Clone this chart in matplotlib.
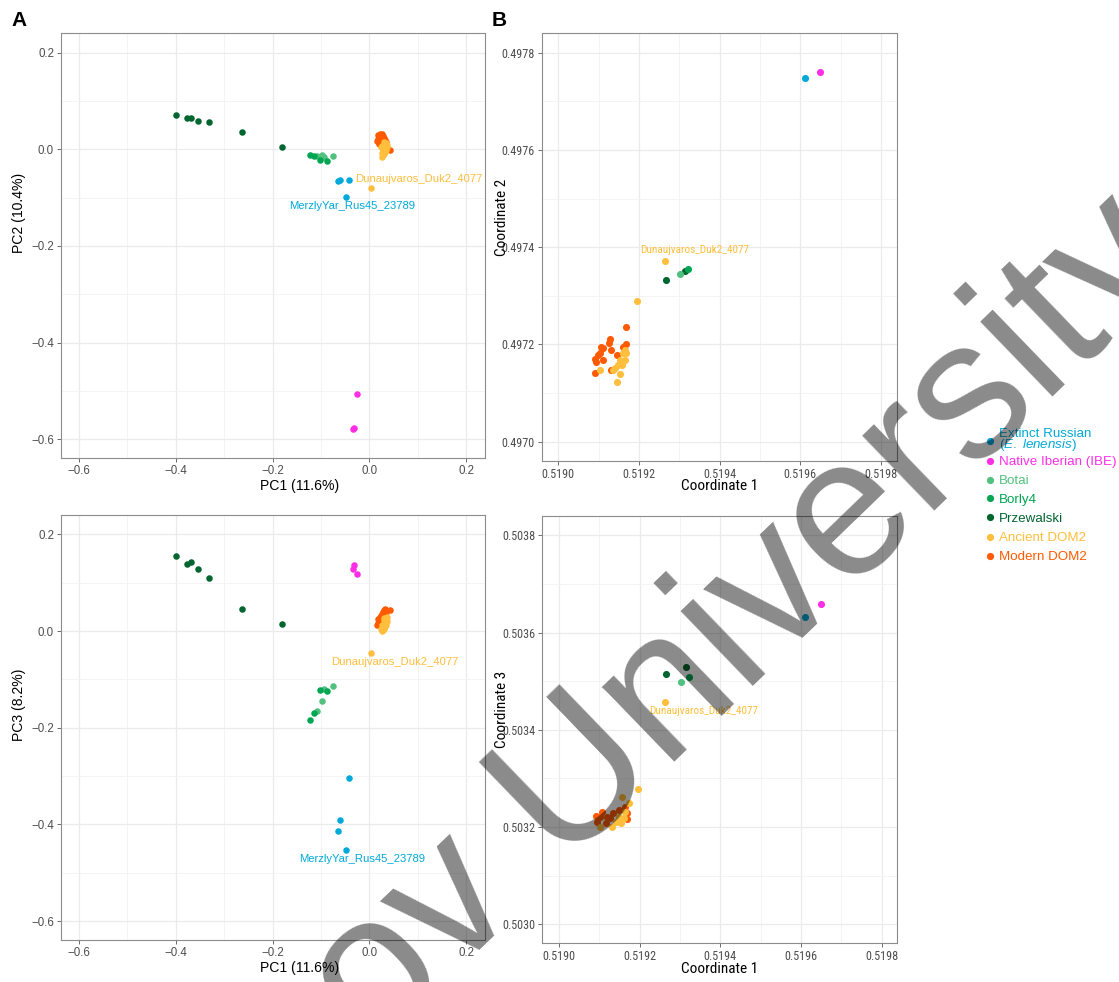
import matplotlib
matplotlib.use("Agg")
import matplotlib.pyplot as plt
from matplotlib import font_manager
from matplotlib.lines import Line2D
from matplotlib.ticker import MultipleLocator

_names = {f.name for f in font_manager.fontManager.ttflist}
SANS = "Liberation Sans"
NARROW = "Roboto Condensed" if "Roboto Condensed" in _names else "Liberation Sans"
plt.rcParams["font.family"] = [SANS, "DejaVu Sans"]
plt.rcParams["mathtext.fontset"] = "custom"
plt.rcParams["mathtext.rm"] = SANS
plt.rcParams["mathtext.it"] = SANS + ":italic"

# ---------------- groups ----------------
groups = ["Extinct Russian", "Native Iberian (IBE)", "Botai", "Borly4",
          "Przewalski", "Ancient DOM2", "Modern DOM2"]
colors = {
    "Extinct Russian": "#00A9D9",
    "Native Iberian (IBE)": "#FF2EE6",
    "Botai": "#52C07E",
    "Borly4": "#00A651",
    "Przewalski": "#00652F",
    "Ancient DOM2": "#FFBE3C",
    "Modern DOM2": "#FF5A00",
}

# ---------------- PCA (PC1 / PC2 / PC3) ----------------
pca_ext_pc1 = [-0.065, -0.060, -0.041, -0.048]
pca_ext_pc2 = [-0.066, -0.063, -0.063, -0.099]
pca_ext_pc3 = [-0.413, -0.390, -0.304, -0.453]

pca_ibe_pc1 = [-0.025, -0.034, -0.031]
pca_ibe_pc2 = [-0.507, -0.578, -0.577]
pca_ibe_pc3 = [0.117, 0.129, 0.136]

pca_botai_pc1 = [-0.108, -0.098, -0.094, -0.076]
pca_botai_pc2 = [-0.014, -0.0125, -0.016, -0.0145]
pca_botai_pc3 = [-0.166, -0.145, -0.120, -0.114]

pca_borly_pc1 = [-0.123, -0.115, -0.102, -0.088]
pca_borly_pc2 = [-0.012, -0.0145, -0.021, -0.0235]
pca_borly_pc3 = [-0.184, -0.169, -0.122, -0.123]

pca_prz_pc1 = [-0.400, -0.377, -0.368, -0.354, -0.332, -0.264, -0.181]
pca_prz_pc2 = [0.072, 0.066, 0.066, 0.058, 0.056, 0.037, 0.005]
pca_prz_pc3 = [0.156, 0.138, 0.143, 0.128, 0.110, 0.046, 0.014]

pca_anc_pc1 = [0.0035, 0.030, 0.034, 0.027, 0.031, 0.036, 0.025, 0.029, 0.033,
               0.028, 0.032, 0.026, 0.030, 0.037, 0.027, 0.034, 0.031]
pca_anc_pc2 = [-0.079, 0.012, 0.014, 0.008, 0.006, 0.010, 0.004, 0.002, 0.003,
               -0.003, -0.006, -0.008, 0.016, 0.005, -0.015, -0.001, -0.010]
pca_anc_pc3 = [-0.0455, 0.022, 0.028, 0.012, 0.015, 0.030, 0.004, 0.008, 0.018,
               0.002, 0.010, 0.001, 0.026, 0.020, 0.006, 0.012, 0.005]

pca_mod_pc1 = [0.018, 0.022, 0.026, 0.020, 0.024, 0.028, 0.017, 0.021, 0.025, 0.030,
               0.016, 0.019, 0.023, 0.027, 0.032, 0.020, 0.026, 0.043, 0.035, 0.029]
pca_mod_pc2 = [0.030, 0.032, 0.031, 0.026, 0.025, 0.027, 0.022, 0.020, 0.021, 0.023,
               0.018, 0.015, 0.017, 0.019, 0.020, 0.012, 0.013, -0.001, 0.015, 0.010]
pca_mod_pc3 = [0.024, 0.030, 0.036, 0.020, 0.028, 0.040, 0.016, 0.022, 0.031, 0.044,
               0.012, 0.017, 0.025, 0.034, 0.045, 0.014, 0.027, 0.043, 0.040, 0.038]

# ---------------- MDS (coordinates 1 / 2 / 3) ----------------
mds_ext_c1 = [0.519611]
mds_ext_c2 = [0.497747]
mds_ext_c3 = [0.503632]

mds_ibe_c1 = [0.519649]
mds_ibe_c2 = [0.497761]
mds_ibe_c3 = [0.503659]

mds_botai_c1 = [0.519302]
mds_botai_c2 = [0.497345]
mds_botai_c3 = [0.503498]

mds_borly_c1 = [0.519322]
mds_borly_c2 = [0.497355]
mds_borly_c3 = [0.503508]

mds_prz_c1 = [0.519266, 0.519314]
mds_prz_c2 = [0.497333, 0.497352]
mds_prz_c3 = [0.503514, 0.503529]

# Coordinate 1 vs 2 for the domestic clusters
mds12_anc_c1 = [0.519264, 0.519196, 0.519103, 0.519145, 0.519153, 0.519157, 0.519165,
                0.519169, 0.519161, 0.519141, 0.519153, 0.519165, 0.519135, 0.519149]
mds12_anc_c2 = [0.497372, 0.497290, 0.497147, 0.497123, 0.497139, 0.497158, 0.497168,
                0.497182, 0.497182, 0.497151, 0.497168, 0.497189, 0.497147, 0.497158]
mds12_mod_c1 = [0.519169, 0.519128, 0.519125, 0.519106, 0.519112, 0.519099, 0.519091,
                0.519112, 0.519093, 0.519131, 0.519146, 0.519168, 0.519091, 0.519132,
                0.519161, 0.519103]
mds12_mod_c2 = [0.497235, 0.497211, 0.497204, 0.497195, 0.497192, 0.497178, 0.497171,
                0.497169, 0.497163, 0.497189, 0.497178, 0.497201, 0.497142, 0.497147,
                0.497195, 0.497182]

# Coordinate 1 vs 3 for the domestic clusters
mds13_anc_c1 = [0.519264, 0.519196, 0.519157, 0.519174, 0.519103, 0.519132, 0.519153,
                0.519165, 0.519149, 0.519161, 0.519141]
mds13_anc_c3 = [0.503458, 0.503278, 0.503262, 0.503249, 0.503201, 0.503201, 0.503209,
                0.503232, 0.503221, 0.503218, 0.503211]
mds13_mod_c1 = [0.519091, 0.519106, 0.519120, 0.519135, 0.519149, 0.519168, 0.519095,
                0.519116, 0.519169, 0.519103, 0.519128, 0.519165]
mds13_mod_c3 = [0.503223, 0.503230, 0.503221, 0.503228, 0.503236, 0.503228, 0.503211,
                0.503208, 0.503216, 0.503220, 0.503218, 0.503242]

pca_x = {"Extinct Russian": pca_ext_pc1, "Native Iberian (IBE)": pca_ibe_pc1,
         "Botai": pca_botai_pc1, "Borly4": pca_borly_pc1, "Przewalski": pca_prz_pc1,
         "Modern DOM2": pca_mod_pc1, "Ancient DOM2": pca_anc_pc1}
pca_y2 = {"Extinct Russian": pca_ext_pc2, "Native Iberian (IBE)": pca_ibe_pc2,
          "Botai": pca_botai_pc2, "Borly4": pca_borly_pc2, "Przewalski": pca_prz_pc2,
          "Modern DOM2": pca_mod_pc2, "Ancient DOM2": pca_anc_pc2}
pca_y3 = {"Extinct Russian": pca_ext_pc3, "Native Iberian (IBE)": pca_ibe_pc3,
          "Botai": pca_botai_pc3, "Borly4": pca_borly_pc3, "Przewalski": pca_prz_pc3,
          "Modern DOM2": pca_mod_pc3, "Ancient DOM2": pca_anc_pc3}
mds12 = {"Modern DOM2": (mds12_mod_c1, mds12_mod_c2), "Ancient DOM2": (mds12_anc_c1, mds12_anc_c2),
         "Przewalski": (mds_prz_c1, mds_prz_c2), "Botai": (mds_botai_c1, mds_botai_c2),
         "Borly4": (mds_borly_c1, mds_borly_c2), "Extinct Russian": (mds_ext_c1, mds_ext_c2),
         "Native Iberian (IBE)": (mds_ibe_c1, mds_ibe_c2)}
mds13 = {"Modern DOM2": (mds13_mod_c1, mds13_mod_c3), "Ancient DOM2": (mds13_anc_c1, mds13_anc_c3),
         "Przewalski": (mds_prz_c1, mds_prz_c3), "Botai": (mds_botai_c1, mds_botai_c3),
         "Borly4": (mds_borly_c1, mds_borly_c3), "Extinct Russian": (mds_ext_c1, mds_ext_c3),
         "Native Iberian (IBE)": (mds_ibe_c1, mds_ibe_c3)}

pc_ticks = [-0.6, -0.4, -0.2, 0.0, 0.2]
coord1_ticks = [0.5190, 0.5192, 0.5194, 0.5196, 0.5198]
coord2_ticks = [0.4970, 0.4972, 0.4974, 0.4976, 0.4978]
coord3_ticks = [0.5030, 0.5032, 0.5034, 0.5036, 0.5038]

# ---------------- figure ----------------
W, H = 1119, 982
fig = plt.figure(figsize=(W / 100, H / 100), dpi=100)
fig.patch.set_facecolor("white")


def add_axes_px(left, top, right, bottom):
    return fig.add_axes([left / W, 1 - bottom / H, (right - left) / W, (bottom - top) / H])


GRID = "#EBEBEB"
BORDER = "#8C8C8C"


def style(ax, xticks, yticks, xfmt, yfmt, family, tick_fs, label_fs, xlabel, ylabel,
          xlab_pos, ylab_pos):
    ax.set_xticks(xticks)
    ax.set_yticks(yticks)
    ax.set_xticklabels([xfmt(v) for v in xticks], family=family)
    ax.set_yticklabels([yfmt(v) for v in yticks], family=family)
    ax.xaxis.set_minor_locator(MultipleLocator((xticks[1] - xticks[0]) / 2))
    ax.yaxis.set_minor_locator(MultipleLocator((yticks[1] - yticks[0]) / 2))
    ax.grid(True, which="major", color=GRID, lw=0.9, zorder=0)
    ax.grid(True, which="minor", color="#F2F2F2", lw=0.6, zorder=0)
    ax.set_axisbelow(True)
    ax.tick_params(which="major", length=3, width=0.6, color="#555555",
                   labelsize=tick_fs, labelcolor="#4D4D4D", pad=2)
    ax.tick_params(which="minor", length=0)
    for s in ax.spines.values():
        s.set_color(BORDER)
        s.set_linewidth(0.8)
    ax.set_xlabel(xlabel, fontsize=label_fs, va="center", ha="center", family=family)
    ax.set_ylabel(ylabel, fontsize=label_fs, va="center", ha="center", family=family)
    ax.xaxis.set_label_coords(*xlab_pos)
    ax.yaxis.set_label_coords(*ylab_pos)


def pcfmt(v):
    return "0.0" if abs(v) < 1e-9 else ("%.1f" % v).replace("-", "\u2212")


def cfmt(v):
    return "%.4f" % v


draw_order = ["Przewalski", "Botai", "Borly4", "Extinct Russian", "Native Iberian (IBE)",
              "Modern DOM2", "Ancient DOM2"]

TICK_A, TITLE_A, LAB_A = 8.3, 10.1, 8.1
TICK_B, TITLE_B, LAB_B = 8.7, 11.0, 8.1

# Panel A: PC1 vs PC2
axA = add_axes_px(61, 33, 485, 458)
for g in draw_order:
    axA.scatter(pca_x[g], pca_y2[g], s=22, color=colors[g], lw=0, zorder=3)
axA.set_xlim(-0.637, 0.239)
axA.set_ylim(-0.639, 0.241)
style(axA, pc_ticks, pc_ticks, pcfmt, pcfmt, SANS, TICK_A, TITLE_A, "PC1 (11.6%)", "PC2 (10.4%)",
      (0.563, -0.066), (-0.099, 0.576))
axA.text(0.102, -0.061, "Dunaujvaros_Duk2_4077", color=colors["Ancient DOM2"],
         fontsize=LAB_A, ha="center", va="center", zorder=4)
axA.text(-0.036, -0.118, "MerzlyYar_Rus45_23789", color=colors["Extinct Russian"],
         fontsize=LAB_A, ha="center", va="center", zorder=4)

# Panel C: PC1 vs PC3
axC = add_axes_px(61, 515, 485, 940)
for g in draw_order:
    axC.scatter(pca_x[g], pca_y3[g], s=22, color=colors[g], lw=0, zorder=3)
axC.set_xlim(-0.637, 0.239)
axC.set_ylim(-0.639, 0.240)
style(axC, pc_ticks, pc_ticks, pcfmt, pcfmt, SANS, TICK_A, TITLE_A, "PC1 (11.6%)", "PC3 (8.2%)",
      (0.563, -0.065), (-0.099, 0.553))
axC.text(0.052, -0.064, "Dunaujvaros_Duk2_4077", color=colors["Ancient DOM2"],
         fontsize=LAB_A, ha="center", va="center", zorder=4)
axC.text(-0.015, -0.472, "MerzlyYar_Rus45_23789", color=colors["Extinct Russian"],
         fontsize=LAB_A, ha="center", va="center", zorder=4)

# Panel B: Coordinate 1 vs 2
axB = add_axes_px(541.7, 33, 896.7, 460.7)
for g in draw_order:
    xs, ys = mds12[g]
    axB.scatter(xs, ys, s=26, color=colors[g], lw=0, zorder=3)
axB.set_xlim(0.518959, 0.519839)
axB.set_ylim(0.496961, 0.4978405)
style(axB, coord1_ticks, coord2_ticks, cfmt, cfmt, NARROW, TICK_B, TITLE_B,
      "Coordinate 1", "Coordinate 2", (0.5, -0.060), (-0.113, 0.570))
axB.text(0.519339, 0.497394, "Dunaujvaros_Duk2_4077", color=colors["Ancient DOM2"],
         fontsize=LAB_B, family=NARROW, ha="center", va="center", zorder=4)

# Panel D: Coordinate 1 vs 3
axD = add_axes_px(542.3, 515.7, 897.3, 943.3)
for g in draw_order:
    xs, ys = mds13[g]
    axD.scatter(xs, ys, s=26, color=colors[g], lw=0, zorder=3)
axD.set_xlim(0.518959, 0.519839)
axD.set_ylim(0.502961, 0.5038403)
style(axD, coord1_ticks, coord3_ticks, cfmt, cfmt, NARROW, TICK_B, TITLE_B,
      "Coordinate 1", "Coordinate 3", (0.5, -0.060), (-0.114, 0.546))
axD.text(0.519360, 0.503439, "Dunaujvaros_Duk2_4077", color=colors["Ancient DOM2"],
         fontsize=LAB_B, family=NARROW, ha="center", va="center", zorder=4)

# Panel tags
fig.text(19 / W, 1 - 20 / H, "A", fontsize=15, fontweight="bold", ha="center", va="center")
fig.text(499 / W, 1 - 20 / H, "B", fontsize=15, fontweight="bold", ha="center", va="center")

# Legend: coloured keys with labels in the group colour
LEG_FS = 9.6
key_x, text_x = 990 / W, 999 / W
key_y = [440.7, 461.0, 479.5, 498.3, 517.3, 536.6, 555.6]
for g, ky in zip(groups, key_y):
    fig.add_artist(Line2D([key_x], [1 - ky / H], ls="none", marker="o", ms=5.2,
                          mec="none", mfc=colors[g], transform=fig.transFigure))
fig.text(text_x, 1 - 436.9 / H, "Extinct Russian", color=colors[groups[0]],
         fontsize=LEG_FS, va="baseline", ha="left")
fig.text(text_x, 1 - 447.6 / H, "($\\mathit{E.\\ lenensis}$)", color=colors[groups[0]],
         fontsize=LEG_FS, va="baseline", ha="left")
for g, ky in zip(groups[1:], key_y[1:]):
    fig.text(text_x, 1 - (ky + 4.3) / H, g, color=colors[g], fontsize=LEG_FS,
             va="baseline", ha="left")

# Watermark across the figure
fig.text(374 / W, 1 - 1053 / H, "ov University", fontsize=142, family=SANS,
         color="black", alpha=0.46, rotation=44, rotation_mode="anchor",
         ha="left", va="baseline", zorder=10)

fig.savefig("out.png", dpi=100, facecolor="white")
